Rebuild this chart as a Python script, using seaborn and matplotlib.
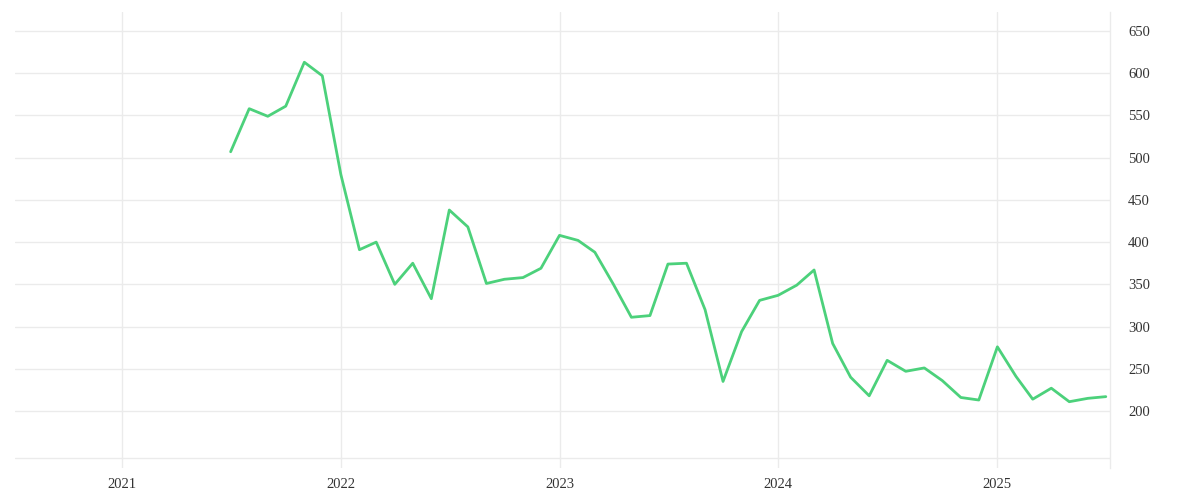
import pandas as pd
import numpy as np
import matplotlib
matplotlib.use("Agg")
import matplotlib.pyplot as plt
import matplotlib.dates as mdates
import seaborn as sns

# monthly values, 2021-07 .. 2025-07
months = pd.date_range("2021-07-01", "2025-07-01", freq="MS")
values = [
    507, 558, 549, 561, 613, 597,            # 2021 Jul-Dec
    480, 391, 400, 350, 375, 333,            # 2022 Jan-Jun
    438, 418, 351, 356, 358, 369,            # 2022 Jul-Dec
    408, 402, 388, 350, 311, 313,            # 2023 Jan-Jun
    374, 375, 320, 235, 294, 331,            # 2023 Jul-Dec
    337, 349, 367, 280, 240, 218,            # 2024 Jan-Jun
    260, 247, 251, 236, 216, 213,            # 2024 Jul-Dec
    276, 241, 214, 227, 211, 215, 217,       # 2025 Jan-Jul
]
year_ticks = ["2021", "2022", "2023", "2024", "2025"]
y_ticks = [200, 250, 300, 350, 400, 450, 500, 550, 600, 650]

df = pd.DataFrame({"date": months, "value": values})

sns.set_style("white")
plt.rcParams["font.family"] = ["Liberation Serif", "DejaVu Serif"]

grid_color = "#ebebeb"
text_color = "#333333"

fig = plt.figure(figsize=(12, 5), dpi=100)
ax = fig.add_axes([0.0125, 0.064, 0.9125, 0.912])

sns.lineplot(data=df, x="date", y="value", color="#4cd17b", linewidth=2.0, ax=ax)

ax.set_xlim(pd.Timestamp("2020-07-06"), pd.Timestamp("2025-07-08"))
ax.set_ylim(132.5, 672.5)

ax.set_xticks([pd.Timestamp(y + "-01-01") for y in year_ticks])
ax.set_xticklabels(year_ticks)
ax.set_yticks(y_ticks)

ax.yaxis.tick_right()
ax.grid(True, color=grid_color, linewidth=1.0)
ax.axhline(144, color=grid_color, linewidth=1.0, zorder=0)

for side in ["left", "top", "bottom"]:
    ax.spines[side].set_visible(False)
ax.spines["right"].set_color(grid_color)
ax.spines["right"].set_linewidth(1.0)

ax.tick_params(axis="both", length=0, labelsize=10.5, labelcolor=text_color)
ax.tick_params(axis="y", pad=13)
ax.tick_params(axis="x", pad=7)
for lab in ax.get_yticklabels():
    lab.set_horizontalalignment("left")

ax.set_xlabel("")
ax.set_ylabel("")

fig.savefig("out.png", dpi=100)
